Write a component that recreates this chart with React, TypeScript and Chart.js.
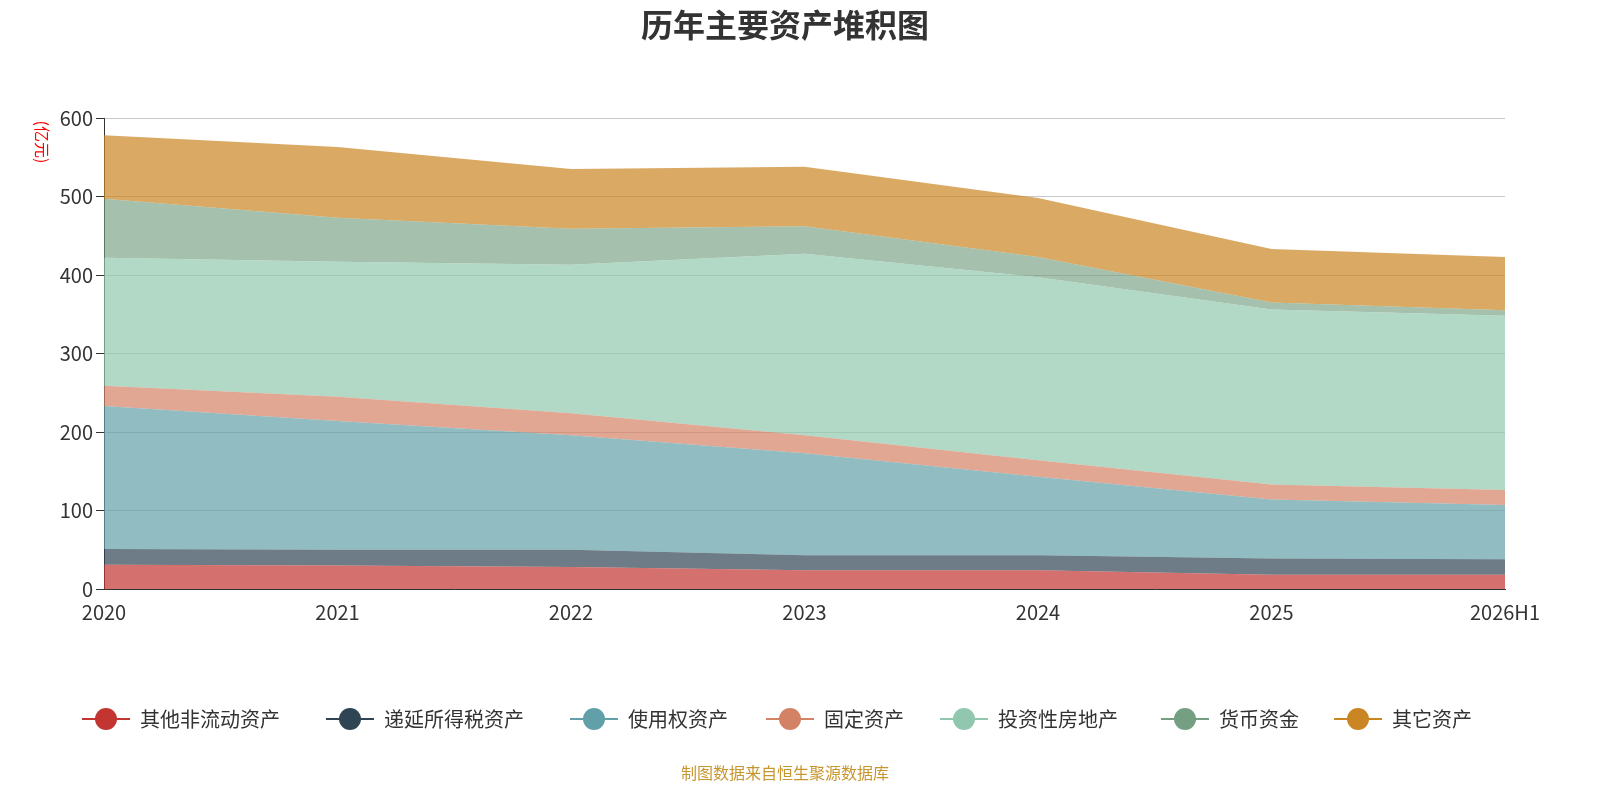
import React, { useEffect, useRef } from "react";
import { Chart, registerables } from "chart.js";
Chart.register(...registerables);

const categories = ["2020", "2021", "2022", "2023", "2024", "2025", "2026H1"];
const names = ["其他非流动资产", "递延所得税资产", "使用权资产", "固定资产", "投资性房地产", "货币资金", "其它资产"];
const colors = ["#c23531", "#2f4554", "#61a0a8", "#d48265", "#91c7ae", "#749f83", "#ca8622"];
const otherNonCurrent = [31, 30, 28, 24, 24, 18, 18];
const deferredTax = [20, 20, 22, 19, 19, 21, 20];
const rightOfUse = [182, 164, 146, 130, 100, 75, 69];
const fixedAssets = [26, 31, 28, 23, 21, 19, 19];
const investProperty = [163, 172, 189, 231, 233, 223, 222];
const cash = [75, 56, 46, 35, 26, 9, 7];
const others = [81, 90, 76, 76, 75, 68, 68];
const series = [otherNonCurrent, deferredTax, rightOfUse, fixedAssets, investProperty, cash, others];
const yTicks = [0, 100, 200, 300, 400, 500, 600];

function hexA(h: string, a: number) {
  const n = parseInt(h.slice(1), 16);
  return `rgba(${(n >> 16) & 255},${(n >> 8) & 255},${n & 255},${a})`;
}

const FONT = "'Noto Sans CJK SC', 'Noto Sans', sans-serif";

const decor = {
  id: "decor",
  afterDraw(chart: any) {
    const ctx = chart.ctx;
    ctx.save();
    ctx.fillStyle = "#333";
    ctx.font = `bold 32px ${FONT}`;
    ctx.textAlign = "center";
    ctx.textBaseline = "middle";
    ctx.fillText("历年主要资产堆积图", 785, 25);
    // unit
    ctx.save();
    ctx.translate(42, 142);
    ctx.rotate(Math.PI / 2);
    ctx.fillStyle = "red";
    ctx.font = `16px ${FONT}`;
    ctx.fillText("(亿元)", 0, 0);
    ctx.restore();
    // legend
    ctx.font = `20px ${FONT}`;
    ctx.textAlign = "left";
    const xs = [82, 326, 570, 766, 940, 1161, 1334];
    names.forEach((n, i) => {
      const x = xs[i];
      const y = 719;
      ctx.strokeStyle = colors[i];
      ctx.lineWidth = 2;
      ctx.beginPath();
      ctx.moveTo(x, y);
      ctx.lineTo(x + 48, y);
      ctx.stroke();
      ctx.fillStyle = colors[i];
      ctx.beginPath();
      ctx.arc(x + 24, y, 11, 0, Math.PI * 2);
      ctx.fill();
      ctx.fillStyle = "#333";
      ctx.fillText(n, x + 58, y);
    });
    ctx.fillStyle = "#c8962e";
    ctx.font = `16px ${FONT}`;
    ctx.textAlign = "center";
    ctx.fillText("制图数据来自恒生聚源数据库", 785, 773);
    ctx.restore();
  },
};

export default function App() {
  const ref = useRef<HTMLCanvasElement>(null);
  useEffect(() => {
    const chart = new Chart(ref.current!, {
      type: "line",
      data: {
        labels: categories,
        datasets: series.map((d, i) => ({
          label: names[i],
          data: d,
          fill: i === 0 ? "origin" : "-1",
          backgroundColor: hexA(colors[i], i === 5 ? 0.65 : 0.7),
          borderColor: hexA(colors[i], 0.7),
          borderWidth: 0,
          pointRadius: 0,
          tension: 0,
        })),
      },
      options: {
        responsive: false,
        animation: false,
        layout: { padding: { left: 0, right: 95, top: 118, bottom: 171 } },
        plugins: { legend: { display: false }, title: { display: false }, tooltip: { enabled: false } },
        scales: {
          x: {
            offset: false,
            grid: { display: false, drawTicks: true },
            border: { color: "#333" },
            ticks: { color: "#333", font: { size: 20, family: FONT }, maxRotation: 0 },
            afterFit: (s: any) => { s.height = 40; },
          },
          y: {
            stacked: true,
            min: 0,
            max: 600,
            afterBuildTicks: (s: any) => { s.ticks = yTicks.map((v) => ({ value: v })); },
            grid: { color: "#c8c8c8", tickColor: "#333" },
            border: { color: "#333" },
            ticks: { color: "#333", font: { size: 20, family: FONT } },
            afterFit: (s: any) => { s.width = 104; },
          },
        },
      },
      plugins: [decor],
    } as any);
    return () => chart.destroy();
  }, []);
  return (
    <div style={{ position: "absolute", left: 0, top: 0, width: 1600, height: 800, background: "#fff" }}>
      <canvas ref={ref} width={1600} height={800} style={{ width: 1600, height: 800 }} />
    </div>
  );
}
